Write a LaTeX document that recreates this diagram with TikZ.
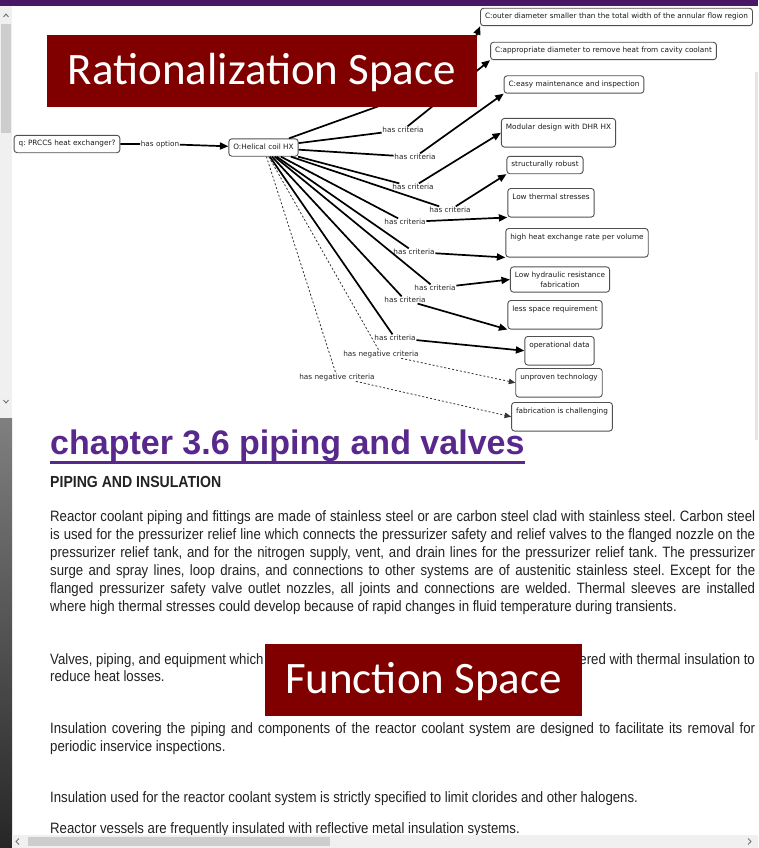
\documentclass[tikz,border=0pt]{standalone}
\usepackage{fontspec}
\usetikzlibrary{arrows.meta,calc}
\newfontfamily\diagfont{DejaVu Sans}
\newfontfamily\slidefont{Carlito}
\newfontfamily\headfont{Liberation Sans}
\newfontfamily\pagefont[FakeStretch=0.88]{Liberation Sans}
\frenchspacing
\definecolor{slideRed}{RGB}{128,0,0}
\definecolor{chapterPurple}{RGB}{88,40,140}
\definecolor{bandPurple}{RGB}{72,24,102}
\definecolor{boxGray}{RGB}{80,80,80}
\definecolor{pageInk}{RGB}{34,34,34}
\definecolor{barTrack}{RGB}{240,240,240}
\definecolor{barThumb}{RGB}{205,205,205}
\tikzset{
  crit/.style={draw=boxGray,line width=0.9pt,rounded corners=3pt,fill=white,text=black!90,
    font=\diagfont\fontsize{7.3}{9.6}\selectfont,inner xsep=4.5pt,inner ysep=5pt},
  critone/.style={crit,text height=5.6pt,text depth=1.8pt},
  crittall/.style={crit,text height=5.6pt,text depth=13pt,anchor=north},
  rel/.style={font=\diagfont\fontsize{7.3}{8.6}\selectfont,text=black!85,inner sep=0.6pt},
  haslink/.style={line width=1.7pt,black,-{Triangle[length=8.5pt,width=7pt]}},
  neglink/.style={line width=0.8pt,black!80,dash pattern=on 2pt off 2pt,-{Triangle[length=6.5pt,width=5.5pt]}},
  spacebox/.style={fill=slideRed,text=white,font=\slidefont\fontsize{45}{50}\selectfont,
    text height=31pt,text depth=4pt,minimum height=72pt,inner sep=0pt},
  bodytext/.style={font=\pagefont\fontsize{15}{18}\selectfont,text=pageInk,inner sep=0pt},
  para/.style={bodytext,anchor=base west,text width=705pt,align=justify},
  scrollglyph/.style={black!55,line width=0.9pt},
}

\begin{document}
\begin{tikzpicture}[x=1pt,y=-1pt]
  \useasboundingbox (0,0) rectangle (758,848);
  \fill[white] (0,0) rectangle (758,848);
  \fill[bandPurple] (0,0) rectangle (758,6);
  \fill[barTrack] (0,6) rectangle (12,418);
  \fill[barThumb] (1,24) rectangle (11,133);
  \draw[scrollglyph] (3.5,17) -- (6,14) -- (8.5,17);
  \draw[scrollglyph] (3.5,400) -- (6,403) -- (8.5,400);
  \shade[top color=black!50,bottom color=black!85] (0,418) rectangle (12,848);
  \fill[black!10] (755,72) rectangle (758,440);

  \node[critone] (q) at (67,144) {q: PRCCS heat exchanger?};
  \node[critone] (O) at (263.5,147.5) {O:Helical coil HX};
  \node[critone] (c1) at (616.5,17) {C:outer diameter smaller than the total width of the annular flow region};
  \node[critone] (c2) at (603.5,51) {C:appropriate diameter to remove heat from cavity coolant};
  \node[critone] (c3) at (574,84.5) {C:easy maintenance and inspection};
  \node[crittall] (c4) at (558.5,118) {Modular design with DHR HX};
  \node[critone] (c5) at (545,165) {structurally robust};
  \node[crittall] (c6) at (551,188) {Low thermal stresses};
  \node[crittall] (c7) at (577,228) {high heat exchange rate per volume};
  \node[crit,align=center] (c8) at (560,279.5) {Low hydraulic resistance\\fabrication};
  \node[crittall] (c9) at (555,300) {less space requirement};
  \node[crittall] (c10) at (559.5,336) {operational data};
  \node[crittall] (c11) at (559,368) {unproven technology};
  \node[crittall] (c12) at (562,402) {fabrication is challenging};

  \node[rel] (opt) at (160,144) {has option};
  \coordinate (h1) at (460,77);
  \node[rel] (l2) at (403,130) {has criteria};
  \node[rel] (l3) at (415,157) {has criteria};
  \node[rel] (l4) at (413,187) {has criteria};
  \node[rel] (l5) at (450,210) {has criteria};
  \node[rel] (l6) at (405,222) {has criteria};
  \node[rel] (l7) at (414,252) {has criteria};
  \node[rel] (l8) at (435,288) {has criteria};
  \node[rel] (l9) at (405,300) {has criteria};
  \node[rel] (l10) at (395,338) {has criteria};
  \node[rel] (n11) at (381,354) {has negative criteria};
  \node[rel] (n12) at (337,377) {has negative criteria};

  \draw[haslink] (q) -- (opt) -- (O);
  \foreach \via/\goal in {h1/c1.south west,l2/c2.south west,l3/c3.south west,l4/c4.west,
      l5/c5.south west,l6/c6.south west,l7/c7.south west,l8/c8.west,l9/c9.south west,l10/c10.west}
    \draw[haslink] (O) -- (\via) -- (\goal);
  \foreach \via/\goal in {n11/c11.west,n12/c12.west}
    \draw[neglink] (O) -- (\via) -- (\goal);

  \node[spacebox,minimum width=430pt] (ratio) at (262,71) {Rationalization Space};

  \node[font=\headfont\bfseries\fontsize{34}{40}\selectfont,text=chapterPurple,anchor=base west,inner sep=0pt]
    (chap) at (50,454) {chapter 3.6 piping and valves};
  \draw[chapterPurple,line width=3pt] ($(chap.base west)+(0,8)$) -- ($(chap.base east)+(0,8)$);
  \node[bodytext,font=\pagefont\bfseries\fontsize{16}{18}\selectfont,anchor=base west]
    (subhead) at (50,487) {PIPING AND INSULATION};

  \node[para] (p1) at (50,521) {Reactor coolant piping and fittings are made of stainless steel or are carbon steel clad with stainless steel. Carbon steel\linebreak
    is used for the pressurizer relief line which connects the pressurizer safety and relief valves to the flanged nozzle on the\linebreak
    pressurizer relief tank, and for the nitrogen supply, vent, and drain lines for the pressurizer relief tank. The pressurizer\linebreak
    surge and spray lines, loop drains, and connections to other systems are of austenitic stainless steel. Except for the\linebreak
    flanged pressurizer safety valve outlet nozzles, all joints and connections are welded. Thermal sleeves are installed\linebreak
    where high thermal stresses could develop because of rapid changes in fluid temperature during transients.};
  \node[bodytext,anchor=base west] (p2a) at (50,664) {Valves, piping, and equipment which};
  \node[bodytext,anchor=base east] (p2b) at (755,664) {ered with thermal insulation to};
  \node[bodytext,anchor=base west] (p2c) at (50,681) {reduce heat losses.};
  \node[para] (p3) at (50,733) {Insulation covering the piping and components of the reactor coolant system are designed to facilitate its removal for\linebreak
    periodic inservice inspections.};
  \node[para] (p4) at (50,802) {Insulation used for the reactor coolant system is strictly specified to limit clorides and other halogens.};
  \node[para] (p5) at (50,833) {Reactor vessels are frequently insulated with reflective metal insulation systems.};

  \node[spacebox,minimum width=317pt] (func) at (423.5,680) {Function Space};

  \fill[barTrack] (12,835) rectangle (758,848);
  \fill[barThumb] (28,837) rectangle (330,846);
  \draw[scrollglyph] (19,838.5) -- (16,841.5) -- (19,844.5);
  \draw[scrollglyph] (748,838.5) -- (751,841.5) -- (748,844.5);
\end{tikzpicture}
\end{document}
